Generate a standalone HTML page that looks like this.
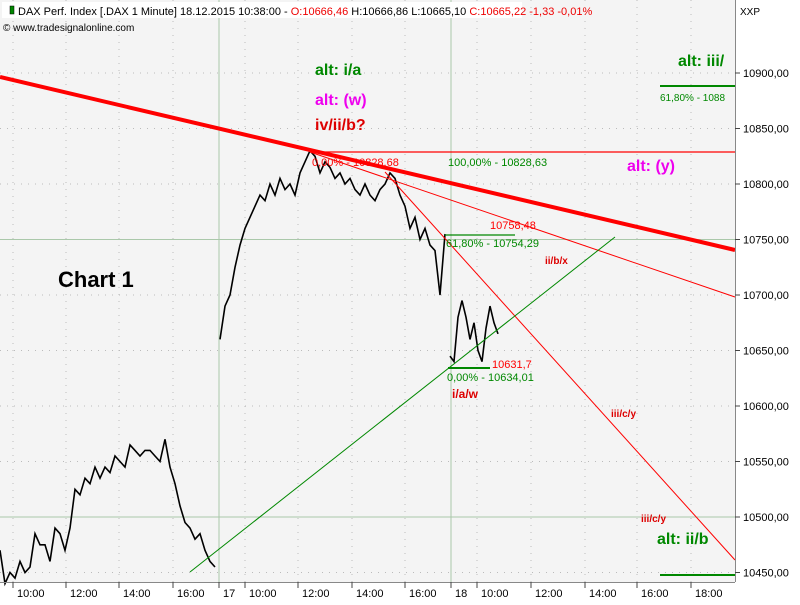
<!DOCTYPE html>
<html><head><meta charset="utf-8"><style>
body{margin:0;background:#fff;font-family:"Liberation Sans",sans-serif;}
svg text{font-family:"Liberation Sans",sans-serif;}
</style></head><body>
<svg id="c" width="800" height="600" xmlns="http://www.w3.org/2000/svg">
<rect x="0" y="0" width="800" height="600" fill="#fff"/>
<rect x="0" y="0" width="735" height="582" fill="#f4f4f4"/>
<g id="grid"></g>
<g id="marks"></g>
<g id="ann"></g>
<line x1="735.5" y1="0" x2="735.5" y2="582" stroke="#888"/>
<line x1="0" y1="582.5" x2="735" y2="582.5" stroke="#888"/>
<g id="axes"></g>
<rect x="2" y="2" width="520" height="16" fill="#fff"/>
<rect x="10" y="6" width="4" height="8" fill="#080" stroke="#000" stroke-width="0.5"/>
<text x="18" y="15" font-size="11">DAX Perf. Index [.DAX  1 Minute] 18.12.2015 10:38:00 - <tspan fill="#e00">O:10666,46</tspan> H:10666,86 L:10665,10 <tspan fill="#e00">C:10665,22 -1,33 -0,01%</tspan></text>
<text x="3" y="31" font-size="10">© www.tradesignalonline.com</text>
<text x="740" y="15" font-size="10">XXP</text>
</svg>
<script>
const yTicks=[10900,10850,10800,10750,10700,10650,10600,10550,10500,10450];
const xTickLabels=["10:00","12:00","14:00","16:00","17","10:00","12:00","14:00","16:00","18","10:00","12:00","14:00","16:00","18:00"];
const xTickPos=[13,66,119,173,219,245,298,352,405,451,477,531,585,637,691];
const day16=[10470,10440,10450,10445,10460,10450,10455,10485,10475,10475,10460,10490,10485,10470,10490,10525,10520,10535,10530,10545,10535,10545,10540,10555,10550,10545,10565,10560,10555,10560,10560,10555,10550,10570,10545,10530,10510,10495,10490,10480,10485,10470,10460,10455];
const day17=[10660,10690,10700,10725,10745,10760,10770,10780,10790,10785,10800,10790,10805,10795,10800,10790,10810,10820,10830,10825,10810,10820,10815,10805,10810,10800,10805,10795,10790,10800,10790,10785,10795,10800,10810,10805,10790,10780,10760,10770,10750,10760,10745,10740,10700,10755];
const day18=[10645,10640,10680,10695,10680,10660,10675,10650,10640,10670,10690,10675,10665];
const Y=p=>73+(10900-p)*1.11;
const NS="http://www.w3.org/2000/svg";
function mk(tag,attrs,parent,text){const e=document.createElementNS(NS,tag);for(const k in attrs)e.setAttribute(k,attrs[k]);if(text!==undefined)e.textContent=text;document.getElementById(parent).appendChild(e);return e;}
yTicks.forEach(v=>{const y=Y(v);
 let g=mk('line',{x1:0,x2:735,y1:y,y2:y,stroke:(v==10750||v==10500)?'#aac8aa':'#bbb','stroke-dasharray':(v==10750||v==10500)?'':'1 6'},'grid');
 
 
 let t=mk('line',{x1:735,x2:740,y1:y,y2:y,stroke:'#444'},'axes');
 
 
 let l=mk('text',{x:743,y:y+4,'font-size':11},'axes',v.toLocaleString('de-DE',{minimumFractionDigits:2}).replace('.',''));
 
 
});
xTickLabels.forEach((s,i)=>{const x=xTickPos[i];const day=(s=="17"||s=="18");
 let g=mk('line',{x1:x,x2:x,y1:0,y2:582,stroke:day?'#aac8aa':'#bbb','stroke-dasharray':day?'':'1 6'},'grid');
 
 
 let t=mk('line',{x1:x,x2:x,y1:582,y2:588,stroke:'#444'},'axes');
 
 
 let l=mk('text',{x:x+4,y:597,'font-size':11},'axes',s);
 
 
});
function series(arr,x0,step,name){const pts=arr.map((v,i)=>(x0+i*step)+','+Y(v).toFixed(1)).join(' ');
 const p=mk('polyline',{points:pts,fill:'none',stroke:'#000','stroke-width':1.6,'stroke-linejoin':'miter'},'marks');
 
 }
series(day16,0,5,'price-line-day16');
series(day17,220,5,'price-line-day17');
series(day18,450,4,'price-line-day18');
function ln(x1,y1,x2,y2,c,w,name){const e=mk('line',{x1,y1,x2,y2,stroke:c,'stroke-width':w},'ann');
 
 }
ln(0,77,735,250,'#f00',4,'main-trendline');
ln(310,152,735,297,'#f00',1,'red-trendline-2');
ln(385,172,735,560,'#f00',1,'red-trendline-steep');
ln(190,572,615,237,'#080',1,'green-trendline');
ln(310,152,735,152,'#f00',1.2,'fib-100-line');
ln(445,235,515,235,'#080',1.2,'fib-618-line');
ln(448,368,490,368,'#080',2,'fib-0-line');
ln(660,86,735,86,'#080',2,'fib-top-line');
ln(660,575,735,575,'#080',2,'fib-bottom-line');
function tx(x,y,s,c,sz,b,name){const e=mk('text',{x,y,fill:c,'font-size':sz,'font-weight':b?'bold':'normal'},'ann',s);
 
 }
tx(315,75,'alt: i/a','#080',16,1,'label-alt-ia');
tx(315,105,'alt: (w)','#e0e',16,1,'label-alt-w');
tx(315,130,'iv/ii/b?','#d00',16,1,'label-iv-ii-b');
tx(678,66,'alt: iii/','#080',16,1,'label-alt-iii');
tx(660,101,'61,80% - 1088','#080',10,0,'label-fib-top');
tx(627,171,'alt: (y)','#e0e',16,1,'label-alt-y');
tx(312,166,'0,00% - 10828,68','#f00',11,0,'label-fib-0-red');
tx(448,166,'100,00% - 10828,63','#080',11,0,'label-fib-100');
tx(490,229,'10758,48','#f00',11,0,'label-10758');
tx(446,247,'61,80% - 10754,29','#080',11,0,'label-fib-618');
tx(545,264,'ii/b/x','#d00',10,1,'label-ii-b-x');
tx(58,287,'Chart 1','#000',22,1,'chart-title');
tx(492,368,'10631,7','#f00',11,0,'label-10631');
tx(447,381,'0,00% - 10634,01','#080',11,0,'label-fib-0');
tx(452,398,'i/a/w','#d00',12,1,'label-i-a-w');
tx(611,417,'iii/c/y','#d00',10,1,'label-iii-c-y-1');
tx(641,522,'iii/c/y','#d00',10,1,'label-iii-c-y-2');
tx(657,544,'alt: ii/b','#080',16,1,'label-alt-ii-b');
</script>
</body></html>
